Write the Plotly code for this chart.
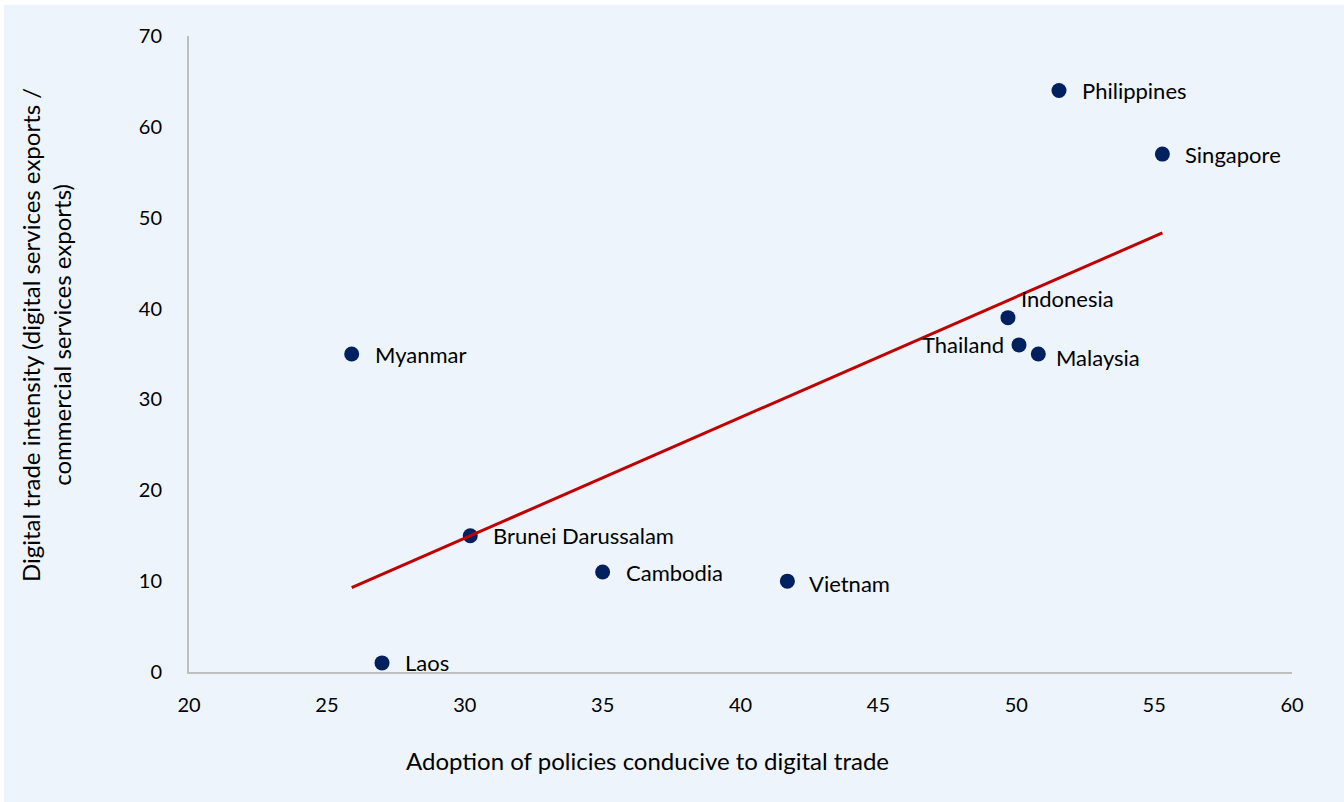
import numpy as np
import plotly.graph_objects as go

# ASEAN economies: policy adoption score vs digital trade intensity
countries = ["Philippines", "Singapore", "Indonesia", "Thailand", "Malaysia",
             "Myanmar", "Brunei Darussalam", "Cambodia", "Vietnam", "Laos"]
policy_score = [51.55, 55.3, 49.7, 50.1, 50.8, 25.9, 30.2, 35.0, 41.7, 27.0]
digital_intensity = [64, 57, 39, 36, 35, 35, 15, 11, 10, 1]

x_ticks = [20, 25, 30, 35, 40, 45, 50, 55, 60]
y_ticks = [0, 10, 20, 30, 40, 50, 60, 70]

# label placement relative to each marker (pixel shifts, anchor)
label_pos = {
    "Philippines": (21, 0, "left"),
    "Singapore": (21, 0, "left"),
    "Indonesia": (11, 19, "left"),
    "Thailand": (-13, 0, "right"),
    "Malaysia": (16, -3, "left"),
    "Myanmar": (21, 0, "left"),
    "Brunei Darussalam": (21, 0, "left"),
    "Cambodia": (21, 0, "left"),
    "Vietnam": (20, -2, "left"),
    "Laos": (21, 0, "left"),
}

BG = "#EDF4FB"
NAVY = "#002060"
RED = "#C00000"
FONT = "Lato"

# least-squares trend line across the observed range
slope, intercept = np.polyfit(policy_score, digital_intensity, 1)
fit_x = [min(policy_score), max(policy_score)]
fit_y = [slope * v + intercept for v in fit_x]

fig = go.Figure()
fig.add_trace(go.Scatter(
    x=policy_score, y=digital_intensity, mode="markers",
    marker=dict(size=15, color=NAVY),
    showlegend=False, hoverinfo="text", text=countries,
))
fig.add_trace(go.Scatter(
    x=fit_x, y=fit_y, mode="lines",
    line=dict(color=RED, width=3),
    showlegend=False, hoverinfo="skip",
))

annotations = []
for name, xv, yv in zip(countries, policy_score, digital_intensity):
    dx, dy, anchor = label_pos[name]
    annotations.append(dict(
        x=xv, y=yv, text=name, showarrow=False,
        xanchor=anchor, yanchor="middle", xshift=dx, yshift=dy,
        font=dict(family=FONT, size=22, color="#000000"),
    ))

annotations.append(dict(
    xref="paper", yref="paper", x=(647 - 189) / 1103, y=(672 - 760) / 636,
    text="Adoption of policies conducive to digital trade", showarrow=False,
    xanchor="center", yanchor="middle",
    font=dict(family=FONT, size=24, color="#000000"),
))
annotations.append(dict(
    xref="paper", yref="paper", x=(46 - 189) / 1103, y=(672 - 335) / 636,
    text="Digital trade intensity (digital services exports /<br>commercial services exports)",
    showarrow=False, textangle=-90, xanchor="center", yanchor="middle",
    font=dict(family=FONT, size=24, color="#000000"),
))

fig.update_layout(
    width=1344, height=802,
    margin=dict(l=189, r=52, t=36, b=130),
    paper_bgcolor="#FFFFFF", plot_bgcolor=BG,
    font=dict(family=FONT, size=20, color="#000000"),
    annotations=annotations,
    shapes=[dict(
        type="rect", xref="paper", yref="paper", layer="below",
        x0=(4 - 189) / 1103, x1=1.2, y0=-0.3, y1=(672 - 5) / 636,
        fillcolor=BG, line=dict(width=0),
    )],
)
fig.update_xaxes(
    range=[20, 60], tickvals=x_ticks, ticktext=[str(v) for v in x_ticks],
    showgrid=False, zeroline=False, showline=True, linecolor="#BFBFBF",
    linewidth=2, ticks="", ticklabelstandoff=14,
)
fig.update_yaxes(
    range=[0, 70], tickvals=y_ticks, ticktext=[str(v) for v in y_ticks],
    showgrid=False, zeroline=False, showline=True, linecolor="#BFBFBF",
    linewidth=2, ticks="", ticklabelstandoff=21,
)

fig.write_html("out.html")
